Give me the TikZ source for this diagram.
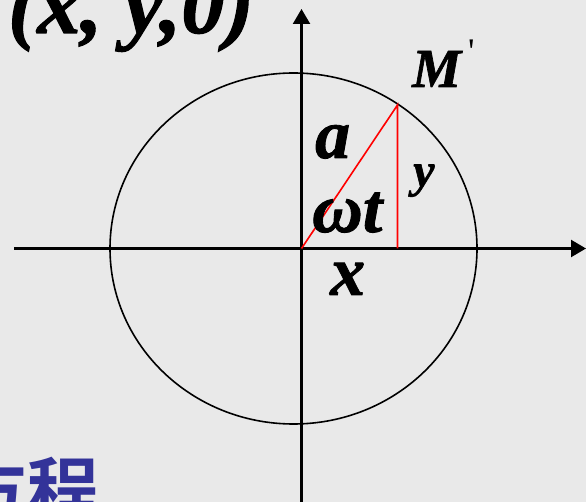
\documentclass[tikz,border=0pt]{standalone}
\usepackage{fontspec}
\setmainfont{Liberation Serif}
\newfontfamily\lblfont{Liberation Serif Bold Italic}[FakeBold=1.2]
\newfontfamily\plainfont{Liberation Serif}
\newfontfamily\cjkfont{Noto Sans CJK SC Bold}
\usetikzlibrary{arrows.meta}
\definecolor{slidegray}{RGB}{233,233,233}
\definecolor{titleblue}{RGB}{51,51,153}
\tikzset{
  lbl/.style={inner sep=0pt,anchor=base west},
  axisline/.style={line width=2.2pt,-{Triangle[width=17pt,length=15pt]}},
  redline/.style={red,line width=1.6pt}
}

\begin{document}
\begin{tikzpicture}[x=1pt,y=-1pt,>=Latex]
\fill[slidegray] (0,0) rectangle (586,502);
\useasboundingbox (0,0) rectangle (586,502);
\clip (0,0) rectangle (586,502);
% axes and circle
\coordinate (O) at (301.5,248.5);
\coordinate (L) at (14,248.5);
\coordinate (R) at (586,248.5);
\coordinate (B) at (301.5,510);
\coordinate (T) at (301.5,9);
\coordinate (M) at (397.5,105);
\coordinate (Mx) at (M|-O);
\draw[axisline] (L) -- (R);
\draw[axisline] (B) -- (T);
\draw[line width=1.6pt] (293.5,248.5) ellipse [x radius=183.5, y radius=175.5];
\draw[redline] (O) -- (M) -- (Mx);
% labels
\node[lbl,font=\lblfont\fontsize{87}{87}\selectfont] (pt) at (8,33) {(x, y,0)};
\node[lbl,font=\lblfont\fontsize{55}{55}\selectfont] (Mlab) at (412,87)
  {M\hspace{7pt}\raisebox{23.5pt}{\plainfont\fontsize{36}{36}\selectfont '}};
\node[lbl,font=\lblfont\fontsize{70}{70}\selectfont] (alab) at (315,158) {a};
\node[lbl,font=\lblfont\fontsize{70}{70}\selectfont] (wt) at (312,232) {ωt};
\node[lbl,font=\lblfont\fontsize{48}{48}\selectfont] (ylab) at (413,186.5) {y};
\node[lbl,font=\lblfont\fontsize{70}{70}\selectfont] (xlab) at (330,295) {x};
\node[lbl,text=titleblue,font=\cjkfont\fontsize{72}{72}\selectfont] (eq) at (-45,517) {方程};
\end{tikzpicture}
\end{document}
